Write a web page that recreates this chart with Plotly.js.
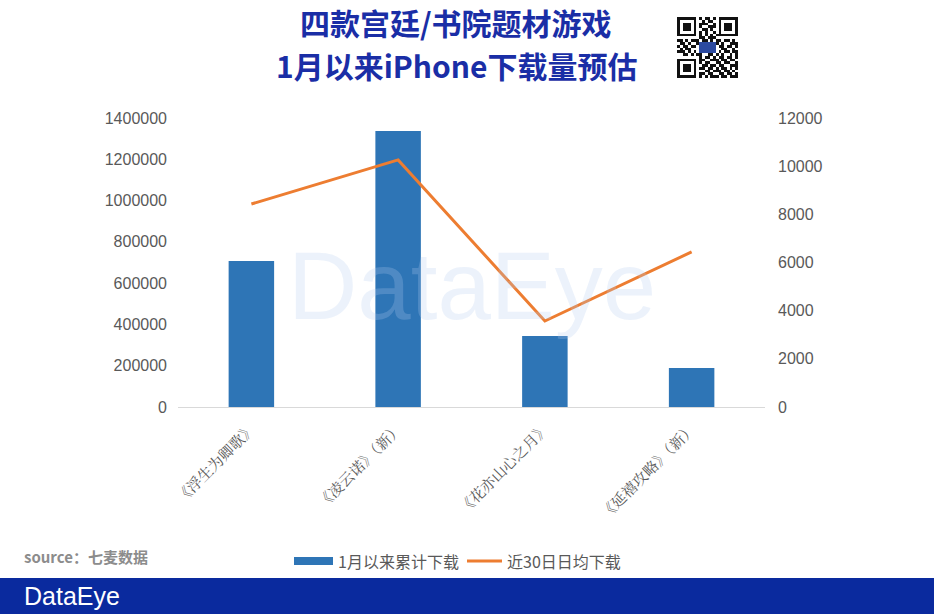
<!DOCTYPE html>
<html>
<head>
<meta charset="utf-8">
<script src="https://cdn.plot.ly/plotly-3.0.1.min.js"></script>
<style>html,body{margin:0;padding:0;background:#fff;}#chart{width:934px;height:614px;}</style>
</head>
<body>
<div id="chart"></div>
<script>
const categories = ['《浮生为卿歌》', '《凌云诺》（新）', '《花亦山心之月》', '《延禧攻略》（新）'];
const cumulativeDownloads = [707000, 1337000, 344000, 189000];
const dailyAvgDownloads = [8430, 10260, 3570, 6440];
const leftTicks = [0, 200000, 400000, 600000, 800000, 1000000, 1200000, 1400000];
const rightTicks = [0, 2000, 4000, 6000, 8000, 10000, 12000];
const seriesNames = ['1月以来累计下载', '近30日日均下载'];
const titleLines = ['四款宫廷/书院题材游戏', '1月以来iPhone下载量预估'];

const FONT = 'Noto Sans CJK SC, Noto Sans, sans-serif';
const GRAY = '#595959';
const BLUE = '#2e75b6';
const ORANGE = '#ed7d31';

// decorative QR-like image
function qrSvg() {
  const rows = [
    '1111111010110101111111',
    '1000001001011001000001',
    '1011101011100101011101',
    '1011101010011101011101',
    '1011101001101001011101',
    '1000001010100101000001',
    '1111111010101011111111',
    '0000000011011100000000',
    '1101011101101011011010',
    '0110100110110110100111',
    '1011011000000001101101',
    '0101100000000000110010',
    '1110101000000001011011',
    '0011010110011010100101',
    '0000000010110101101101',
    '1111111011001110110110',
    '1000001010110011011001',
    '1011101001101101100111',
    '1011101011011010110101',
    '1011101000110111011010',
    '1000001011011001101101',
    '1111111010101110110111'
  ];
  let s = "<svg xmlns='http://www.w3.org/2000/svg' width='22' height='22' shape-rendering='crispEdges'>";
  rows.forEach((r, y) => { for (let x = 0; x < r.length; x++) if (r[x] === '1') s += "<rect x='" + x + "' y='" + y + "' width='1' height='1' fill='#111'/>"; });
  s += "<rect x='8' y='9' width='6' height='4' fill='#2c4aa0'/>";
  s += "</svg>";
  return 'data:image/svg+xml;utf8,' + encodeURIComponent(s);
}

const traces = [
  {
    type: 'bar', x: categories, y: cumulativeDownloads, name: seriesNames[0],
    marker: {color: BLUE}, width: 0.31, yaxis: 'y'
  },
  {
    type: 'scatter', mode: 'lines', x: categories, y: dailyAvgDownloads, name: seriesNames[1],
    line: {color: ORANGE, width: 3}, yaxis: 'y2'
  }
];

// px -> paper helpers (plot area x:178..765, y:118..407)
const px = v => (v - 178) / 587;
const py = v => (407 - v) / 289;

const layout = {
  width: 934, height: 614,
  margin: {l: 178, r: 169, t: 118, b: 207},
  paper_bgcolor: '#fff', plot_bgcolor: 'rgba(0,0,0,0)',
  font: {family: FONT, color: GRAY, size: 14},
  xaxis: {
    type: 'category', tickangle: -45, showline: true, linecolor: '#d9d9d9', linewidth: 1,
    ticks: '', showgrid: false, zeroline: false, ticklabelstandoff: 6,
    tickfont: {family: 'Noto Serif CJK SC, Noto Sans CJK SC, serif', size: 15, color: GRAY}
  },
  yaxis: {
    range: [0, 1400000], tickvals: leftTicks, ticktext: leftTicks.map(String),
    showgrid: false, zeroline: false, ticks: '', showline: false,
    tickfont: {family: 'Liberation Sans, Arial, sans-serif', size: 16, color: GRAY}, ticklabelstandoff: 10
  },
  yaxis2: {
    range: [0, 12000], tickvals: rightTicks, ticktext: rightTicks.map(String), overlaying: 'y', side: 'right',
    showgrid: false, zeroline: false, ticks: '', showline: false,
    tickfont: {family: 'Liberation Sans, Arial, sans-serif', size: 16, color: GRAY}, ticklabelstandoff: 12
  },
  showlegend: false,
  shapes: [
    {type: 'rect', xref: 'paper', yref: 'paper', x0: px(-5), x1: px(940), y0: py(578), y1: py(620),
     fillcolor: '#0a2a9e', line: {width: 0}, layer: 'below'},
    {type: 'rect', xref: 'paper', yref: 'paper', x0: px(294), x1: px(333), y0: py(565), y1: py(557),
     fillcolor: BLUE, line: {width: 0}},
    {type: 'line', xref: 'paper', yref: 'paper', x0: px(467), x1: px(502), y0: py(561), y1: py(561),
     line: {color: ORANGE, width: 3}}
  ],
  annotations: [
    {text: '<b>' + titleLines[0] + '</b>', xref: 'paper', yref: 'paper',
     x: px(456), y: py(22), yanchor: 'middle', borderpad: 0,
     showarrow: false, font: {family: FONT, size: 30, color: '#1a2ea6'}},
    {text: '<b>' + titleLines[1] + '</b>', xref: 'paper', yref: 'paper',
     x: px(456), y: py(65), yanchor: 'middle', borderpad: 0,
     showarrow: false, font: {family: FONT, size: 30, color: '#1a2ea6'}},
    {text: 'DataEye', xref: 'paper', yref: 'paper', x: 0.5, y: 0.42, showarrow: false,
     font: {family: 'Liberation Sans, Arial, sans-serif', size: 96, color: 'rgba(180,205,240,0.25)'}},
    {text: seriesNames[0], xref: 'paper', yref: 'paper', x: px(336), xanchor: 'left', y: py(561), yanchor: 'middle',
     showarrow: false, font: {family: FONT, size: 16, color: GRAY}},
    {text: seriesNames[1], xref: 'paper', yref: 'paper', x: px(505), xanchor: 'left', y: py(561), yanchor: 'middle',
     showarrow: false, font: {family: FONT, size: 16, color: GRAY}},
    {text: '<b>source：七麦数据</b>', xref: 'paper', yref: 'paper', x: px(22), xanchor: 'left', y: py(556), yanchor: 'middle',
     showarrow: false, font: {family: FONT, size: 15, color: '#8c8c8c'}},
    {text: 'DataEye', xref: 'paper', yref: 'paper', x: px(22), xanchor: 'left', y: py(596), yanchor: 'middle',
     showarrow: false, font: {family: 'Liberation Sans, Arial, sans-serif', size: 25, color: '#ffffff'}}
  ],
  images: [
    {source: qrSvg(), xref: 'paper', yref: 'paper', x: px(677), y: py(17), sizex: 61 / 587, sizey: 61 / 289,
     xanchor: 'left', yanchor: 'top', sizing: 'stretch', layer: 'above'}
  ]
};

Plotly.newPlot('chart', traces, layout, {displayModeBar: false, staticPlot: true});
</script>
</body>
</html>
